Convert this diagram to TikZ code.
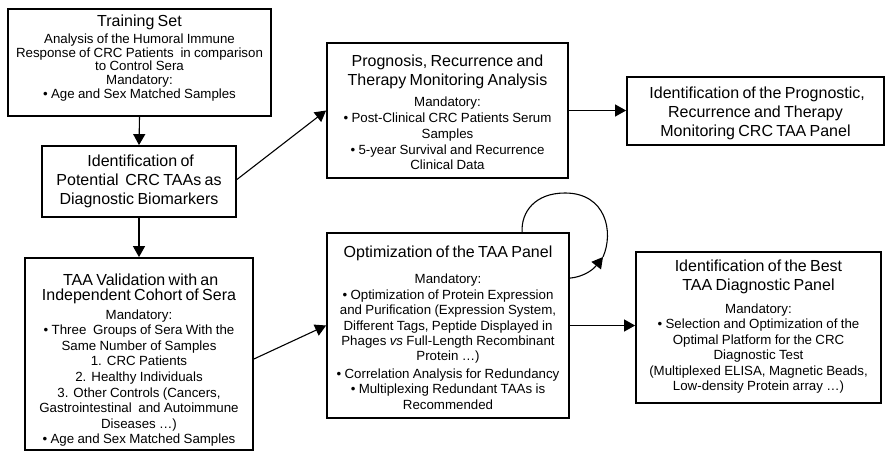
\documentclass[tikz,border=0pt]{standalone}
\usepackage{fontspec}
\setmainfont{Liberation Sans}
\usetikzlibrary{arrows.meta,calc}
\newcommand\titlefont[1][18.3]{\fontsize{16}{#1}\selectfont}
\newcommand\bodyfont[1][15.6]{\fontsize{13.3}{#1}\selectfont}
\tikzset{
  box/.style={draw, line width=1.8pt, inner sep=0pt},
  txt/.style={inner sep=0pt, align=center, anchor=north},
  conn/.style={line width=1.1pt, -{Triangle[length=11pt,width=12pt]}},
  plain/.style={line width=1.1pt}
}
\begin{document}
\begin{tikzpicture}[x=1pt,y=-1pt]
\useasboundingbox (0,0) rectangle (886,453);
% boxes
\node[box, minimum width=263pt, minimum height=107pt] (b1) at (139.5,62.5) {};
\node[box, minimum width=194pt, minimum height=71pt] (b2) at (139,181.5) {};
\node[box, minimum width=228pt, minimum height=192pt] (b3) at (139,354) {};
\node[box, minimum width=241pt, minimum height=135pt] (b4) at (447.5,110.5) {};
\node[box, minimum width=257pt, minimum height=68pt] (b5) at (755.5,111) {};
\node[box, minimum width=242pt, minimum height=185pt] (b6) at (448,325.5) {};
\node[box, minimum width=245pt, minimum height=151pt] (b7) at (758.5,327.5) {};
% texts
\node[txt, text width=259pt] (b1t) at (139.5,15)
 {{\titlefont Training Set\par}\vspace{2.9pt}{\bodyfont[13.7] Analysis of the Humoral Immune\\Response of CRC Patients~ in comparison\\to Control Sera\\Mandatory:\\• Age and Sex Matched Samples\par}};
\node[txt, text width=190pt] (b2t) at (139,155)
 {{\titlefont[19] Identification of\\Potential~ CRC TAAs as\\Diagnostic Biomarkers\par}};
\node[txt, text width=226pt] (b3t) at (139,274)
 {{\titlefont[15.2] TAA Validation with an\\Independent Cohort of Sera\par}\vspace{2.5pt}{\bodyfont[15.6] Mandatory:\\• Three~ Groups of Sera With the\\Same Number of Samples\\1. CRC Patients\\2. Healthy Individuals\\3. Other Controls (Cancers,\\Gastrointestinal~ and Autoimmune\\Diseases …)\\• Age and Sex Matched Samples\par}};
\node[txt, text width=237pt] (b4t) at (447.5,55)
 {{\titlefont Prognosis, Recurrence and\\Therapy Monitoring Analysis\par}\vspace{5.9pt}{\bodyfont[15.8] Mandatory:\\• Post-Clinical CRC Patients Serum\\Samples\\• 5-year Survival and Recurrence\\Clinical Data\par}};
\node[txt, text width=253pt] (b5t) at (755.5,87)
 {{\titlefont[19] Identification of the Prognostic,\\Recurrence and Therapy\\Monitoring CRC TAA Panel\par}};
\node[txt, text width=238pt] (b6t) at (448,246)
 {{\titlefont Optimization of the TAA Panel\par}\vspace{10.8pt}{\bodyfont[15.4] Mandatory:\\• Optimization of Protein Expression\\and Purification (Expression System,\\Different Tags, Peptide Displayed in\\Phages \textit{vs} Full-Length Recombinant\\Protein …)\\[2pt]• Correlation Analysis for Redundancy\\• Multiplexing Redundant TAAs is\\Recommended\par}};
\node[txt, text width=241pt] (b7t) at (758.5,260)
 {{\titlefont Identification of the Best\\TAA Diagnostic Panel\par}\vspace{7.7pt}{\bodyfont[15.5] Mandatory:\\• Selection and Optimization of the\\Optimal Platform for the CRC\\Diagnostic Test\\(Multiplexed ELISA, Magnetic Beads,\\Low-density Protein array …)\par}};
% connectors
\draw[conn] (b1.south) -- (b2.north);
\draw[conn] (b2.south) -- (b3.north);
\draw[conn] ([yshift=2pt]b2.east) -- (b4.west);
\draw[conn] ([yshift=-5pt]b3.east) -- (b6.west);
\draw[conn] (b4.east) -- (b4.east -| b5.west);
\draw[conn] (b6.east) -- (b6.east -| b7.west);
% self loop
\coordinate (loopA) at ([xshift=196pt]b6.north west);
\coordinate (loopB) at ([yshift=-46pt]b6.north east);
\coordinate (looptip) at (603,257);
\draw[conn] (loopB) .. controls (582,277) and (592,271) .. (looptip);
\draw[plain] (looptip) .. controls (614,232) and (606,193) .. (565,193) .. controls (535,193) and (521,212) .. (loopA);
\end{tikzpicture}
\end{document}
